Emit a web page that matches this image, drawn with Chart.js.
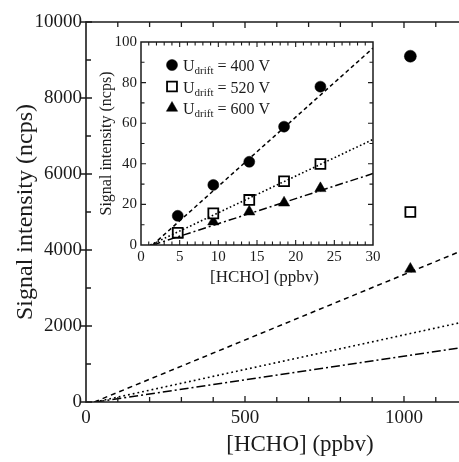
<!DOCTYPE html>
<html><head><meta charset="utf-8">
<script src="https://cdn.jsdelivr.net/npm/chart.js@4/dist/chart.umd.min.js"></script>
<style>
html,body{margin:0;padding:0;background:#fff;}
#wrap{position:relative;width:459px;height:462px;overflow:hidden;background:#fff;}
#main{position:absolute;left:0;top:0;width:459px;height:462px;}
#inset{position:absolute;left:95px;top:30px;width:285px;height:262px;}
</style></head><body>
<div id="wrap">
<canvas id="main" width="459" height="462"></canvas>
<canvas id="inset" width="285" height="262"></canvas>
</div>
<script>
// ---------- data ----------
const seriesLabels = ['400 V', '520 V', '600 V'];
const legendPrefix = 'U';
const legendSub = 'drift';

// inset: low concentration measurements
const insetX    = [4.75, 9.35, 14.0, 18.5, 23.2];
const inset400  = [14.4, 29.6, 41.0, 58.3, 78.0];
const inset520  = [6.0, 15.6, 22.2, 31.4, 39.9];
const inset600  = [5.4, 11.5, 16.4, 20.8, 27.9];
// inset fit lines (end points)
const insetFitX400 = [1.5, 30];  const insetFitY400 = [0, 97];
const insetFitX520 = [1.2, 30];  const insetFitY520 = [0, 52];
const insetFitX600 = [1.5, 30];  const insetFitY600 = [0, 35.2];

// main: high concentration measurement
const mainX   = [1020];
const main400 = [9100];
const main520 = [5000];
const main600 = [3500];
// main fit lines
const mainFitX400 = [26, 1173]; const mainFitY400 = [0, 3950];
const mainFitX520 = [29, 1173]; const mainFitY520 = [0, 2080];
const mainFitX600 = [30, 1173]; const mainFitY600 = [0, 1420];

// tick labels
const mainXTicks  = [0, 500, 1000];
const mainYTicks  = [0, 2000, 4000, 6000, 8000, 10000];
const insetXTicks = [0, 5, 10, 15, 20, 25, 30];
const insetYTicks = [0, 20, 40, 60, 80, 100];

const mainXTitle = '[HCHO] (ppbv)';
const mainYTitle = 'Signal intensity (ncps)';
const insetXTitle = '[HCHO] (ppbv)';
const insetYTitle = 'Signal intensity (ncps)';

// ---------- helpers ----------
const INK = '#1b1b1b';
const SERIF = "'Liberation Serif','Times New Roman',serif";
const zip = (xs, ys) => xs.map((x, i) => ({x: x, y: ys[i]}));

function framePlugin(o) {
  return {
    id: 'frame',
    afterDatasetsDraw(chart) {
      const ctx = chart.ctx, a = chart.chartArea, xs = chart.scales.x, ys = chart.scales.y;
      ctx.save();
      ctx.strokeStyle = INK;
      ctx.lineWidth = o.lw;
      ctx.beginPath();
      ctx.moveTo(a.left, a.top - (o.top ? o.lw / 2 : 0)); ctx.lineTo(a.left, a.bottom + o.lw / 2);
      ctx.moveTo(a.left - o.lw / 2, a.bottom); ctx.lineTo(a.right + (o.right ? o.lw / 2 : 0), a.bottom);
      if (o.top) { ctx.moveTo(a.left - o.lw / 2, a.top); ctx.lineTo(a.right + (o.right ? o.lw / 2 : 0), a.top); }
      if (o.right) { ctx.moveTo(a.right, a.top); ctx.lineTo(a.right, a.bottom); }
      ctx.stroke();
      ctx.lineWidth = o.tw;
      ctx.beginPath();
      const isMaj = (v, s) => Math.abs(v / s - Math.round(v / s)) < 1e-6;
      for (let v = xs.min + o.xMinor; v < xs.max - 1e-6; v += o.xMinor) {
        const px = xs.getPixelForValue(v);
        const len = isMaj(v, o.xMajor) ? o.majLen : o.minLen;
        ctx.moveTo(px, a.bottom); ctx.lineTo(px, a.bottom - len);
        if (o.top) { ctx.moveTo(px, a.top); ctx.lineTo(px, a.top + len); }
      }
      for (let v = ys.min; v <= ys.max + 1e-6; v += o.yMinor) {
        const py = ys.getPixelForValue(v);
        const maj = isMaj(v, o.yMajor);
        if (v > ys.min + 1e-6 && v < ys.max - 1e-6 || (maj && o.majOut)) {
          const len = maj ? o.majLen : o.minLen;
          ctx.moveTo(a.left - (maj ? o.majOut : 0), py); ctx.lineTo(a.left + len, py);
          if (o.right && v > ys.min + 1e-6 && v < ys.max - 1e-6) { ctx.moveTo(a.right, py); ctx.lineTo(a.right - len, py); }
        }
      }
      ctx.stroke();
      // x title (manually placed)
      ctx.fillStyle = INK;
      ctx.font = o.xTitleSize + 'px ' + SERIF;
      ctx.textAlign = 'center';
      ctx.textBaseline = 'middle';
      ctx.fillText(o.xTitle, o.xTitlePos[0], o.xTitlePos[1]);
      ctx.restore();
    }
  };
}

function lineDs(pts, dash, w) {
  return {data: pts, showLine: true, borderColor: '#000', borderWidth: w, borderDash: dash,
          pointRadius: 0, pointHoverRadius: 0, fill: false, tension: 0};
}
function ptDs(pts, style, r, hollow, label) {
  return {label: label, data: pts, showLine: false, pointStyle: style, pointRadius: r, pointHoverRadius: r,
          backgroundColor: hollow ? '#fff' : '#000', borderColor: '#000', borderWidth: hollow ? 1.8 : 0.5, clip: false};
}

function scaleCfg(min, max, ticksArr, fontSize, pad, fit, title) {
  return {
    type: 'linear', min: min, max: max,
    afterBuildTicks: s => { s.ticks = ticksArr.map(v => ({value: v})); },
    afterFit: s => { fit(s); s.paddingLeft = 0; s.paddingRight = 0; s.paddingTop = 0; s.paddingBottom = 0; },
    grid: {display: false, drawTicks: false},
    border: {display: false},
    ticks: {color: INK, font: {family: SERIF, size: fontSize}, padding: pad, maxRotation: 0, autoSkip: false,
            callback: v => String(v)},
    title: title
  };
}

Chart.defaults.font.family = SERIF;
Chart.defaults.color = INK;

// ---------- main chart ----------
new Chart(document.getElementById('main'), {
  type: 'scatter',
  data: {datasets: [
    lineDs(zip(mainFitX400, mainFitY400), [5, 4], 1.5),
    lineDs(zip(mainFitX520, mainFitY520), [1.8, 3], 1.6),
    lineDs(zip(mainFitX600, mainFitY600), [9, 3, 2, 3], 1.5),
    ptDs(zip(mainX, main400), 'circle', 6, false, seriesLabels[0]),
    ptDs(zip(mainX, main520), 'rect', 7, true, seriesLabels[1]),
    ptDs(zip(mainX, main600), 'triangle', 6.5, false, seriesLabels[2])
  ]},
  options: {
    responsive: false, animation: false, devicePixelRatio: 1,
    layout: {autoPadding: false, padding: {top: 22, right: 0, left: 0, bottom: 0}},
    plugins: {legend: {display: false}, tooltip: {enabled: false}},
    scales: {
      x: scaleCfg(0, 1173, mainXTicks, 19, 5, s => { s.height = 60; }, {display: false}),
      y: scaleCfg(0, 10000, mainYTicks, 19, 4, s => { s.width = 86; },
        {display: true, text: mainYTitle, color: INK, font: {family: SERIF, size: 24}, padding: {top: 11, bottom: 0}})
    }
  },
  plugins: [framePlugin({lw: 1.6, tw: 1.3, top: true, right: false, xMinor: 100, xMajor: 500, yMinor: 1000, yMajor: 2000,
    minLen: 5, majLen: 6, majOut: 5, xTitle: mainXTitle, xTitleSize: 23, xTitlePos: [300, 445]})]
});

// ---------- inset chart ----------
const legendPlugin = {
  id: 'insetLegend',
  afterDatasetsDraw(chart) {
    const ctx = chart.ctx;
    const pts = chart.data.datasets.filter(d => d.label);
    ctx.save();
    pts.forEach((d, i) => {
      const y = 35 + i * 21.5;
      ctx.fillStyle = d.backgroundColor; ctx.strokeStyle = d.borderColor; ctx.lineWidth = d.borderWidth;
      Chart.helpers.drawPoint(ctx, {pointStyle: d.pointStyle, radius: d.pointRadius, rotation: 0, borderWidth: d.borderWidth}, 77, y);
      ctx.fillStyle = INK; ctx.textBaseline = 'alphabetic'; ctx.textAlign = 'left';
      let x = 88;
      ctx.font = '16px ' + SERIF; ctx.fillText(legendPrefix, x, y + 6); x += ctx.measureText(legendPrefix).width;
      ctx.font = '11px ' + SERIF; ctx.fillText(legendSub, x, y + 9); x += ctx.measureText(legendSub).width;
      ctx.font = '16px ' + SERIF; ctx.fillText(' = ' + d.label, x, y + 6);
    });
    ctx.restore();
  }
};

new Chart(document.getElementById('inset'), {
  type: 'scatter',
  data: {datasets: [
    lineDs(zip(insetFitX400, insetFitY400), [4, 3], 1.5),
    lineDs(zip(insetFitX520, insetFitY520), [1.6, 2.4], 1.6),
    lineDs(zip(insetFitX600, insetFitY600), [8, 3, 2, 3], 1.5),
    ptDs(zip(insetX, inset400), 'circle', 5.5, false, seriesLabels[0]),
    ptDs(zip(insetX, inset520), 'rect', 7, true, seriesLabels[1]),
    ptDs(zip(insetX, inset600), 'triangle', 6.5, false, seriesLabels[2])
  ]},
  options: {
    responsive: false, animation: false, devicePixelRatio: 1,
    layout: {autoPadding: false, padding: {top: 12, right: 7, left: 0, bottom: 0}},
    plugins: {legend: {display: false}, tooltip: {enabled: false}},
    scales: {
      x: scaleCfg(0, 30, insetXTicks, 15, 3, s => { s.height = 47; }, {display: false}),
      y: scaleCfg(0, 100, insetYTicks, 15, 4, s => { s.width = 46; },
        {display: true, text: insetYTitle, color: INK, font: {family: SERIF, size: 16}, padding: {top: 2, bottom: 0}})
    }
  },
  plugins: [legendPlugin, framePlugin({lw: 1.5, tw: 1.1, top: true, right: true, xMinor: 1, xMajor: 5, yMinor: 10, yMajor: 20,
    minLen: 3.5, majLen: 5, majOut: 0, xTitle: insetXTitle, xTitleSize: 17, xTitlePos: [169.5, 248]})]
});
</script>
</body></html>
